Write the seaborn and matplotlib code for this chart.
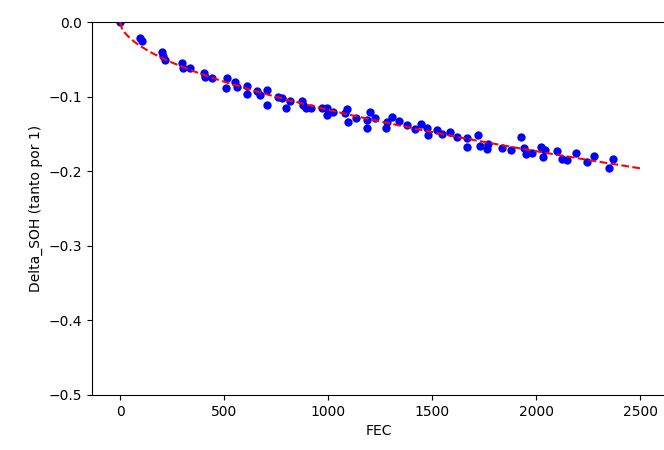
import numpy as np
import pandas as pd
import matplotlib
matplotlib.use("Agg")
import matplotlib.pyplot as plt
import seaborn as sns

# Measured capacity fade vs. full equivalent cycles
fec = [0, 98, 104, 200, 207, 215, 300, 302, 335, 405, 410, 440,
       513, 509, 552, 562, 610, 610, 658, 672, 706, 706, 760, 778,
       797, 816, 874, 880, 893, 917, 970, 995, 995, 1024, 1082, 1090,
       1096, 1134, 1187, 1187, 1202, 1226, 1278, 1283, 1307, 1341, 1379, 1418,
       1447, 1475, 1480, 1525, 1550, 1584, 1622, 1666, 1666, 1723, 1733, 1762,
       1771, 1838, 1882, 1930, 1944, 1954, 1982, 2023, 2035, 2045, 2102, 2126,
       2150, 2194, 2246, 2280, 2352, 2371]
delta_soh = [0.0, -0.022, -0.026, -0.040, -0.046, -0.051, -0.055, -0.062, -0.062, -0.068, -0.074, -0.075,
             -0.075, -0.089, -0.080, -0.087, -0.086, -0.097, -0.092, -0.098, -0.091, -0.111, -0.100, -0.102,
             -0.115, -0.106, -0.106, -0.111, -0.115, -0.115, -0.115, -0.115, -0.125, -0.121, -0.122, -0.117,
             -0.134, -0.129, -0.131, -0.142, -0.121, -0.129, -0.142, -0.134, -0.128, -0.133, -0.138, -0.144,
             -0.137, -0.142, -0.151, -0.145, -0.150, -0.147, -0.154, -0.156, -0.168, -0.152, -0.166, -0.170,
             -0.163, -0.169, -0.172, -0.154, -0.169, -0.177, -0.175, -0.168, -0.181, -0.172, -0.173, -0.183,
             -0.185, -0.175, -0.187, -0.179, -0.196, -0.183]

points = pd.DataFrame({"FEC": fec, "Delta_SOH": delta_soh})

# Power-law model  Delta_SOH = -a * FEC**b, least squares in linear space
x = np.asarray(fec, dtype=float)
y = np.asarray(delta_soh, dtype=float)
best = None
for b in np.linspace(0.3, 0.9, 601):
    basis = -(x ** b)
    a = basis @ y / (basis @ basis)
    err = np.sum((y - a * basis) ** 2)
    if best is None or err < best[0]:
        best = (err, a, b)
_, a, b = best
x_fit = np.linspace(0, 2500, 300)
fit = pd.DataFrame({"FEC": x_fit, "Delta_SOH": -a * x_fit ** b})

fig = plt.figure(figsize=(6.64, 4.50), dpi=100)
ax = fig.add_axes([92 / 664, 55 / 450, 574 / 664, 373 / 450])

sns.scatterplot(data=points, x="FEC", y="Delta_SOH", color="blue",
                s=36, linewidth=0, ax=ax, zorder=2)
sns.lineplot(data=fit, x="FEC", y="Delta_SOH", color="red",
             linestyle="--", linewidth=1.5, ax=ax, zorder=3)

ax.set_xlim(-135, 2625)
ax.set_ylim(-0.5, 0.0)
ax.set_xticks([0, 500, 1000, 1500, 2000, 2500])
ax.set_yticks([0.0, -0.1, -0.2, -0.3, -0.4, -0.5])
ax.set_xlabel("FEC")
ax.set_ylabel("Delta_SOH (tanto por 1)")

fig.savefig("out.png", dpi=100)
